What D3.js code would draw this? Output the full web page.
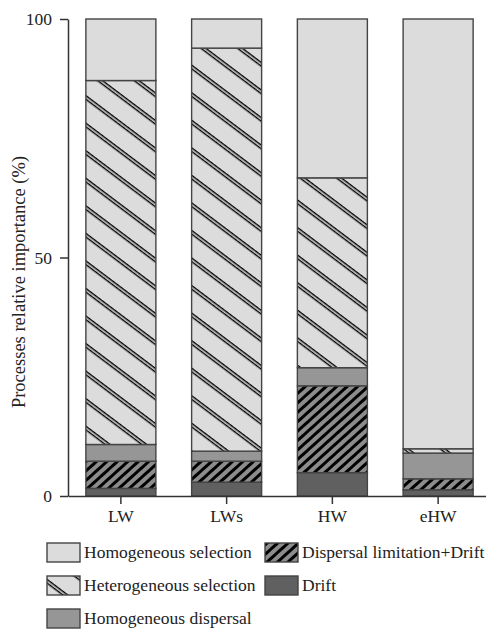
<!DOCTYPE html>
<html>
<head>
<meta charset="utf-8">
<script src="https://cdn.jsdelivr.net/npm/d3@7"></script>
<style>
  body { margin: 0; background: #fff; }
</style>
</head>
<body>
<div id="chart"></div>
<script>
// groups on the x axis
var sites = ["LW", "LWs", "HW", "eHW"];
// process names, bottom to top of the stack
var processes = ["Drift", "Dispersal limitation+Drift", "Homogeneous dispersal",
                 "Heterogeneous selection", "Homogeneous selection"];
// percentage per process, in site order
var drift = [1.6, 2.9, 4.9, 1.3];
var dispLimDrift = [5.7, 4.4, 18.2, 2.3];
var homDispersal = [3.5, 2.1, 3.8, 5.4];
var hetSelection = [76.3, 84.5, 39.8, 0.9];
var homSelection = [12.9, 6.1, 33.3, 90.1];
var yTicks = [0, 50, 100];

var width = 486, height = 631;
var margin = {top: 19, right: 0, bottom: 135, left: 68};
var plotRight = 491;
var FONT = "'Liberation Serif', 'Times New Roman', serif";

var series = [drift, dispLimDrift, homDispersal, hetSelection, homSelection];
var data = sites.map(function(s, i) {
  var row = {site: s};
  processes.forEach(function(p, j) { row[p] = series[j][i]; });
  return row;
});
var stacked = d3.stack().keys(processes)(data);

var fills = {
  "Drift": "#606060",
  "Dispersal limitation+Drift": "url(#dl)",
  "Homogeneous dispersal": "#969696",
  "Heterogeneous selection": "url(#het)",
  "Homogeneous selection": "#dcdcdc"
};

var svg = d3.select("#chart").append("svg")
  .attr("width", width).attr("height", height);

var defs = svg.append("defs");
// double backslash lines on light gray
var het = defs.append("pattern").attr("id", "het")
  .attr("patternUnits", "userSpaceOnUse")
  .attr("width", 22).attr("height", 22)
  .attr("patternTransform", "rotate(37)");
het.append("rect").attr("width", 22).attr("height", 22).attr("fill", "#dcdcdc");
het.append("rect").attr("x", 0).attr("y", 2).attr("width", 22).attr("height", 1.4).attr("fill", "#000");
het.append("rect").attr("x", 0).attr("y", 4.9).attr("width", 22).attr("height", 1.4).attr("fill", "#000");

// thick forward-slash lines on mid gray
var dl = defs.append("pattern").attr("id", "dl")
  .attr("patternUnits", "userSpaceOnUse")
  .attr("width", 7).attr("height", 7)
  .attr("patternTransform", "rotate(-42)");
dl.append("rect").attr("width", 7).attr("height", 7).attr("fill", "#8c8c8c");
dl.append("rect").attr("x", 0).attr("y", 0).attr("width", 7).attr("height", 3).attr("fill", "#000");

var x = d3.scaleBand()
  .domain(sites)
  .range([margin.left, plotRight])
  .paddingInner(0.338)
  .paddingOuter(0.169);

var y = d3.scaleLinear()
  .domain([0, 100])
  .range([height - margin.bottom, margin.top]);

svg.append("g").selectAll("g")
  .data(stacked)
  .join("g")
  .attr("fill", function(d) { return fills[d.key]; })
  .selectAll("rect")
  .data(function(d) { return d; })
  .join("rect")
  .attr("x", function(d) { return x(d.data.site); })
  .attr("y", function(d) { return y(d[1]); })
  .attr("width", x.bandwidth())
  .attr("height", function(d) { return y(d[0]) - y(d[1]); })
  .attr("stroke", "#444")
  .attr("stroke-width", 1.4);

// axes
var yAxis = svg.append("g")
  .attr("transform", "translate(" + margin.left + ",0)")
  .call(d3.axisLeft(y).tickValues(yTicks).tickSize(8).tickPadding(8).tickSizeOuter(0));
var xAxis = svg.append("g")
  .attr("transform", "translate(0," + (height - margin.bottom) + ")")
  .call(d3.axisBottom(x).tickSize(8).tickPadding(6).tickSizeOuter(0));

[yAxis, xAxis].forEach(function(a) {
  a.attr("font-family", FONT).attr("font-size", 17.5);
  a.selectAll("path, line").attr("stroke", "#333").attr("stroke-width", 1.5);
  a.selectAll("text").attr("fill", "#222");
});

svg.append("text")
  .attr("transform", "translate(25,282) rotate(-90)")
  .attr("text-anchor", "middle")
  .attr("font-family", FONT)
  .attr("font-size", 18.5)
  .attr("fill", "#222")
  .text("Processes relative importance (%)");

// legend
var legendItems = [
  {name: "Homogeneous selection", col: 0, row: 0},
  {name: "Dispersal limitation+Drift", col: 1, row: 0},
  {name: "Heterogeneous selection", col: 0, row: 1},
  {name: "Drift", col: 1, row: 1},
  {name: "Homogeneous dispersal", col: 0, row: 2}
];
var colX = [47, 265];
var legend = svg.append("g").selectAll("g")
  .data(legendItems)
  .join("g")
  .attr("transform", function(d) { return "translate(" + colX[d.col] + "," + (543 + d.row * 33) + ")"; });
legend.append("rect")
  .attr("width", 33).attr("height", 19)
  .attr("fill", function(d) { return fills[d.name]; })
  .attr("stroke", "#444").attr("stroke-width", 1.4);
legend.append("text")
  .attr("x", 37).attr("y", 15)
  .attr("font-family", FONT)
  .attr("font-size", 17.5)
  .attr("fill", "#222")
  .text(function(d) { return d.name; });
</script>
</body>
</html>
